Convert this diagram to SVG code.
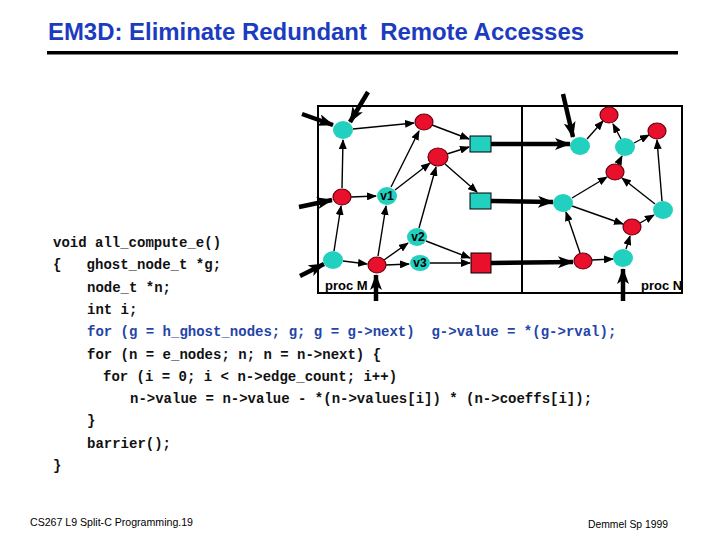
<svg xmlns="http://www.w3.org/2000/svg" width="720" height="540" viewBox="0 0 720 540">
<style>
.title{font-family:"Liberation Sans",Arial,sans-serif;font-weight:bold;font-size:23.5px;fill:#1c3cc0;white-space:pre}
.code{font-family:"Liberation Mono","Courier New",monospace;font-weight:bold;font-size:14px;fill:#111;white-space:pre}
.blue{fill:#2444a8}
.foot{font-family:"Liberation Sans",Arial,sans-serif;font-size:10.5px;fill:#000}
.lbl{font-family:"Liberation Sans",Arial,sans-serif;font-weight:bold;font-size:12px;fill:#000;text-anchor:middle}
.proc{font-family:"Liberation Sans",Arial,sans-serif;font-weight:bold;font-size:13px;fill:#000}
.cy{fill:#22d0c0}
.rd{fill:#e8102a;stroke:#6a0010;stroke-width:1.2}
.thin{stroke:#000;stroke-width:1.4;fill:none;marker-end:url(#ah)}
.thick{stroke:#000;stroke-width:4.5;fill:none;marker-end:url(#ahb)}
</style>
<defs>
<marker id="ah" markerUnits="userSpaceOnUse" markerWidth="10" markerHeight="8" refX="9" refY="4" orient="auto"><path d="M0,0 L10,4 L0,8 z" fill="#000"/></marker>
<marker id="ahb" markerUnits="userSpaceOnUse" markerWidth="16" markerHeight="12" refX="15" refY="6" orient="auto"><path d="M0,0 L16,6 L0,12 L4,6 z" fill="#000"/></marker>
</defs>
<rect width="720" height="540" fill="#fff"/>
<text class="title" x="48" y="40" textLength="536" lengthAdjust="spacingAndGlyphs">EM3D: Eliminate Redundant  Remote Accesses</text>
<rect x="47" y="51" width="631" height="3.5" fill="#000"/>

<g id="frame">
<rect x="318" y="106" width="364" height="187" fill="none" stroke="#000" stroke-width="2"/>
<line x1="522" y1="106" x2="522" y2="293" stroke="#000" stroke-width="2"/>
<text class="proc" x="325" y="290">proc M</text>
<text class="proc" x="641" y="290">proc N</text>
</g>

<g id="connectors">
<line class="thin" x1="353" y1="129" x2="414" y2="123"/>
<line class="thin" x1="342" y1="188" x2="343" y2="140"/>
<line class="thin" x1="351" y1="197" x2="376" y2="196"/>
<line class="thin" x1="391" y1="187" x2="419" y2="131"/>
<line class="thin" x1="395" y1="190" x2="430" y2="163"/>
<line class="thin" x1="432" y1="125" x2="469" y2="139"/>
<line class="thin" x1="447" y1="154" x2="469" y2="147"/>
<line class="thin" x1="445" y1="164" x2="477" y2="192"/>
<line class="thin" x1="334" y1="251" x2="341" y2="206"/>
<line class="thin" x1="343" y1="261" x2="367" y2="264"/>
<line class="thin" x1="378" y1="256" x2="386" y2="206"/>
<line class="thin" x1="384" y1="260" x2="408" y2="243"/>
<line class="thin" x1="386" y1="265" x2="409" y2="264"/>
<line class="thin" x1="419" y1="228" x2="436" y2="167"/>
<line class="thin" x1="426" y1="241" x2="470" y2="258"/>
<line class="thin" x1="430" y1="263" x2="470" y2="263"/>

<line class="thin" x1="587" y1="139" x2="603" y2="121"/>
<line class="thin" x1="621" y1="139" x2="613" y2="124"/>
<line class="thin" x1="634" y1="143" x2="649" y2="135"/>
<line class="thin" x1="618" y1="164" x2="622" y2="156"/>
<line class="thin" x1="572" y1="198" x2="607" y2="177"/>
<line class="thin" x1="572" y1="206" x2="623" y2="224"/>
<line class="thin" x1="655" y1="204" x2="622" y2="178"/>
<line class="thin" x1="662" y1="201" x2="657" y2="140"/>
<line class="thin" x1="640" y1="223" x2="654" y2="215"/>
<line class="thin" x1="580" y1="253" x2="566" y2="212"/>
<line class="thin" x1="592" y1="260" x2="613" y2="259"/>
<line class="thin" x1="626" y1="249" x2="630" y2="236"/>

<line class="thick" x1="368" y1="92" x2="350" y2="122"/>
<line class="thick" x1="302" y1="114" x2="333" y2="125"/>
<line class="thick" x1="299" y1="207" x2="332" y2="200"/>
<line class="thick" x1="300" y1="276" x2="324" y2="264"/>
<line class="thick" x1="376" y1="301" x2="376" y2="275"/>
<line class="thick" x1="491" y1="144" x2="570" y2="144"/>
<line class="thick" x1="491" y1="201" x2="553" y2="202"/>
<line class="thick" x1="491" y1="263" x2="573" y2="262"/>
<line class="thick" x1="563" y1="94" x2="573" y2="137"/>
<line class="thick" x1="623" y1="301" x2="623" y2="269"/>
</g>

<g id="nA"><ellipse class="cy" cx="343" cy="130" rx="10" ry="9"/></g>
<g id="nB"><ellipse class="rd" cx="424" cy="122" rx="9" ry="8"/></g>
<g id="nC"><ellipse class="rd" cx="438" cy="157" rx="10" ry="9"/></g>
<g id="sq1"><rect class="cy" x="470" y="136" width="21" height="16" stroke="#000" stroke-width="1"/></g>
<g id="sq2"><rect class="cy" x="470" y="193" width="21" height="16" stroke="#000" stroke-width="1"/></g>
<g id="sq3"><rect x="471" y="253" width="20" height="20" fill="#e8102a" stroke="#000" stroke-width="1"/></g>
<g id="nD"><ellipse class="rd" cx="342" cy="197" rx="9" ry="8"/></g>
<g id="v1"><ellipse class="cy" cx="387" cy="196" rx="10" ry="9"/><text class="lbl" x="387" y="200">v1</text></g>
<g id="v2"><ellipse class="cy" cx="417" cy="237" rx="10" ry="9"/><text class="lbl" x="418" y="241">v2</text></g>
<g id="nE"><ellipse class="cy" cx="333" cy="260" rx="10" ry="9"/></g>
<g id="nF"><ellipse class="rd" cx="377" cy="265" rx="9" ry="8"/></g>
<g id="v3"><ellipse class="cy" cx="420" cy="263" rx="10" ry="8"/><text class="lbl" x="420" y="267">v3</text></g>

<g id="nG"><ellipse class="cy" cx="580" cy="146" rx="10" ry="9"/></g>
<g id="nH"><ellipse class="rd" cx="609" cy="115" rx="9" ry="8"/></g>
<g id="nI"><ellipse class="cy" cx="625" cy="147" rx="10" ry="9"/></g>
<g id="nJ"><ellipse class="rd" cx="657" cy="131" rx="9" ry="8"/></g>
<g id="nK"><ellipse class="rd" cx="615" cy="172" rx="9" ry="8"/></g>
<g id="nL"><ellipse class="cy" cx="563" cy="203" rx="10" ry="9"/></g>
<g id="nM"><ellipse class="cy" cx="663" cy="210" rx="10" ry="9"/></g>
<g id="nP"><ellipse class="rd" cx="632" cy="227" rx="9" ry="8"/></g>
<g id="nQ"><ellipse class="rd" cx="583" cy="261" rx="9" ry="8"/></g>
<g id="nR"><ellipse class="cy" cx="623" cy="258" rx="10" ry="9"/></g>

<g id="code">
<text class="code" x="53" y="247">void all_compute_e()</text>
<text class="code" x="53" y="269">{   ghost_node_t *g;</text>
<text class="code" x="87" y="292">node_t *n;</text>
<text class="code" x="87" y="314">int i;</text>
<text class="code blue" x="87" y="336">for (g = h_ghost_nodes; g; g = g-&gt;next)  g-&gt;value = *(g-&gt;rval);</text>
<text class="code" x="87" y="359">for (n = e_nodes; n; n = n-&gt;next) {</text>
<text class="code" x="103" y="381">for (i = 0; i &lt; n-&gt;edge_count; i++)</text>
<text class="code" x="130" y="403">n-&gt;value = n-&gt;value - *(n-&gt;values[i]) * (n-&gt;coeffs[i]);</text>
<text class="code" x="87" y="425">}</text>
<text class="code" x="87" y="448">barrier();</text>
<text class="code" x="53" y="470">}</text>
</g>

<text class="foot" x="30" y="526" textLength="163" lengthAdjust="spacingAndGlyphs">CS267 L9 Split-C Programming.19</text>
<text class="foot" x="588" y="528" textLength="80" lengthAdjust="spacingAndGlyphs">Demmel Sp 1999</text>
</svg>
